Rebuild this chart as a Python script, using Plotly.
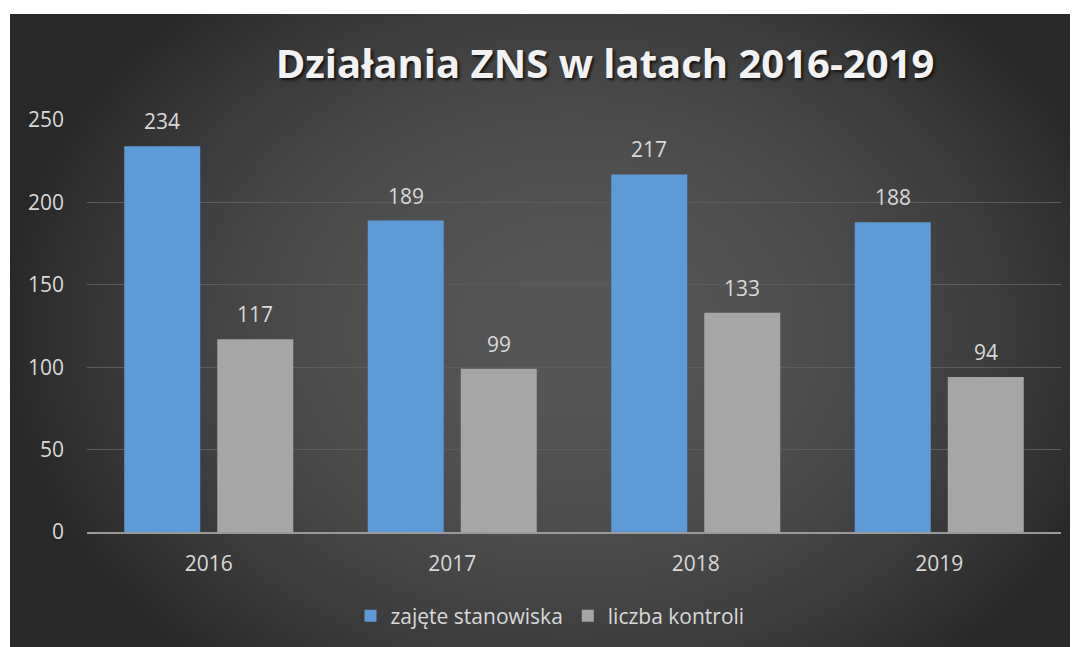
import base64, struct, zlib
import numpy as np
import plotly.graph_objects as go

# ---- data ----
years = [2016, 2017, 2018, 2019]
zajete_stanowiska = [234, 189, 217, 188]
liczba_kontroli = [117, 99, 133, 94]
series_names = ["zajęte stanowiska", "liczba kontroli"]
title_text = "Działania ZNS w latach 2016-2019"
y_ticks = [0, 50, 100, 150, 200, 250]

# figure is drawn inside the page's default 8px body margin
W, H = 1070, 639
ML, MR, MT, MB = 79, 17, 112, 115
PW, PH = W - ML - MR, H - MT - MB

# ---- radial gradient background as PNG ----
def make_png(arr):
    h, w, _ = arr.shape
    raw = b"".join(b"\x00" + arr[i].tobytes() for i in range(h))
    def chunk(t, d):
        return struct.pack(">I", len(d)) + t + d + struct.pack(">I", zlib.crc32(t + d) & 0xffffffff)
    return (b"\x89PNG\r\n\x1a\n" + chunk(b"IHDR", struct.pack(">IIBBBBB", w, h, 8, 2, 0, 0, 0))
            + chunk(b"IDAT", zlib.compress(raw, 9)) + chunk(b"IEND", b""))

bx0, by0, bx1, by1 = 2, 6, 1070, 639
bw, bh = bx1 - bx0, by1 - by0
yy, xx = np.mgrid[0:bh, 0:bw].astype(float)
cx, cy, rx, ry = 562 - bx0, 322 - by0, 570.0, 440.0
d2 = ((xx - cx) / rx) ** 2 + ((yy - cy) / ry) ** 2
f = np.clip(d2, 0, 1)
inner, outer = 86.0, 40.0
v = (inner + (outer - inner) * f).astype(np.uint8)
img = np.stack([v, v, v], axis=-1)
src = "data:image/png;base64," + base64.b64encode(make_png(img)).decode()

font_fam = "Open Sans, Noto Sans, sans-serif"
txt_col = "#d9d9d9"

fig = go.Figure()
fig.add_trace(go.Bar(x=years, y=zajete_stanowiska, name=series_names[0],
                     marker=dict(color="#5c9bd7", line=dict(width=0))))
fig.add_trace(go.Bar(x=years, y=liczba_kontroli, name=series_names[1],
                     marker=dict(color="#a6a6a6", line=dict(width=0))))

bargap, bargroupgap = 0.236, 0.183
slot = (1 - bargap) * (PW / len(years)) / 2
for vals, sh in ((zajete_stanowiska, -slot / 2), (liczba_kontroli, slot / 2)):
    for yr, val in zip(years, vals):
        fig.add_annotation(x=yr, y=val, text=str(val), showarrow=False,
                           xshift=sh, yshift=25, yanchor="middle",
                           font=dict(family=font_fam, size=21, color=txt_col))

fig.add_layout_image(dict(source=src, xref="paper", yref="paper",
                          x=(bx0 - ML) / PW, y=(H - MB - by0) / PH,
                          sizex=bw / PW, sizey=bh / PH, sizing="stretch",
                          xanchor="left", yanchor="top", layer="below"))

fig.update_layout(
    width=W, height=H,
    margin=dict(l=ML, r=MR, t=MT, b=MB, autoexpand=False),
    paper_bgcolor="white", plot_bgcolor="rgba(0,0,0,0)",
    barmode="group", bargap=bargap, bargroupgap=bargroupgap,
    title=dict(text="<b>" + title_text + "</b>", x=597 / W, xanchor="center",
               y=1 - 56 / H, yanchor="middle", xref="container",
               font=dict(family=font_fam, size=40, color="#f2f2f2",
                         shadow="2px 2px 3px rgba(0,0,0,0.7)")),
    xaxis=dict(type="linear", range=[years[0] - 0.5, years[-1] + 0.5],
               tickvals=years, ticktext=[str(y) for y in years],
               showgrid=False, showline=True, linecolor="#9a9a9a", linewidth=2,
               zeroline=False, ticks="", tickfont=dict(family=font_fam, size=21, color=txt_col),
               ticklabelstandoff=12, fixedrange=True, automargin=False),
    yaxis=dict(range=[0, 250], tickvals=y_ticks, showgrid=True, gridcolor="#5c5c5c",
               gridwidth=1, zeroline=False, showline=False, ticks="",
               tickfont=dict(family=font_fam, size=21, color=txt_col),
               ticklabelstandoff=22, fixedrange=True, automargin=False),
    legend=dict(orientation="h", x=(542 - ML) / PW, xanchor="center",
                y=(H - MB - 608) / PH, yanchor="middle",
                font=dict(family=font_fam, size=21, color=txt_col),
                bgcolor="rgba(0,0,0,0)", itemclick=False),
    showlegend=True,
)

fig.write_html("out.html")
